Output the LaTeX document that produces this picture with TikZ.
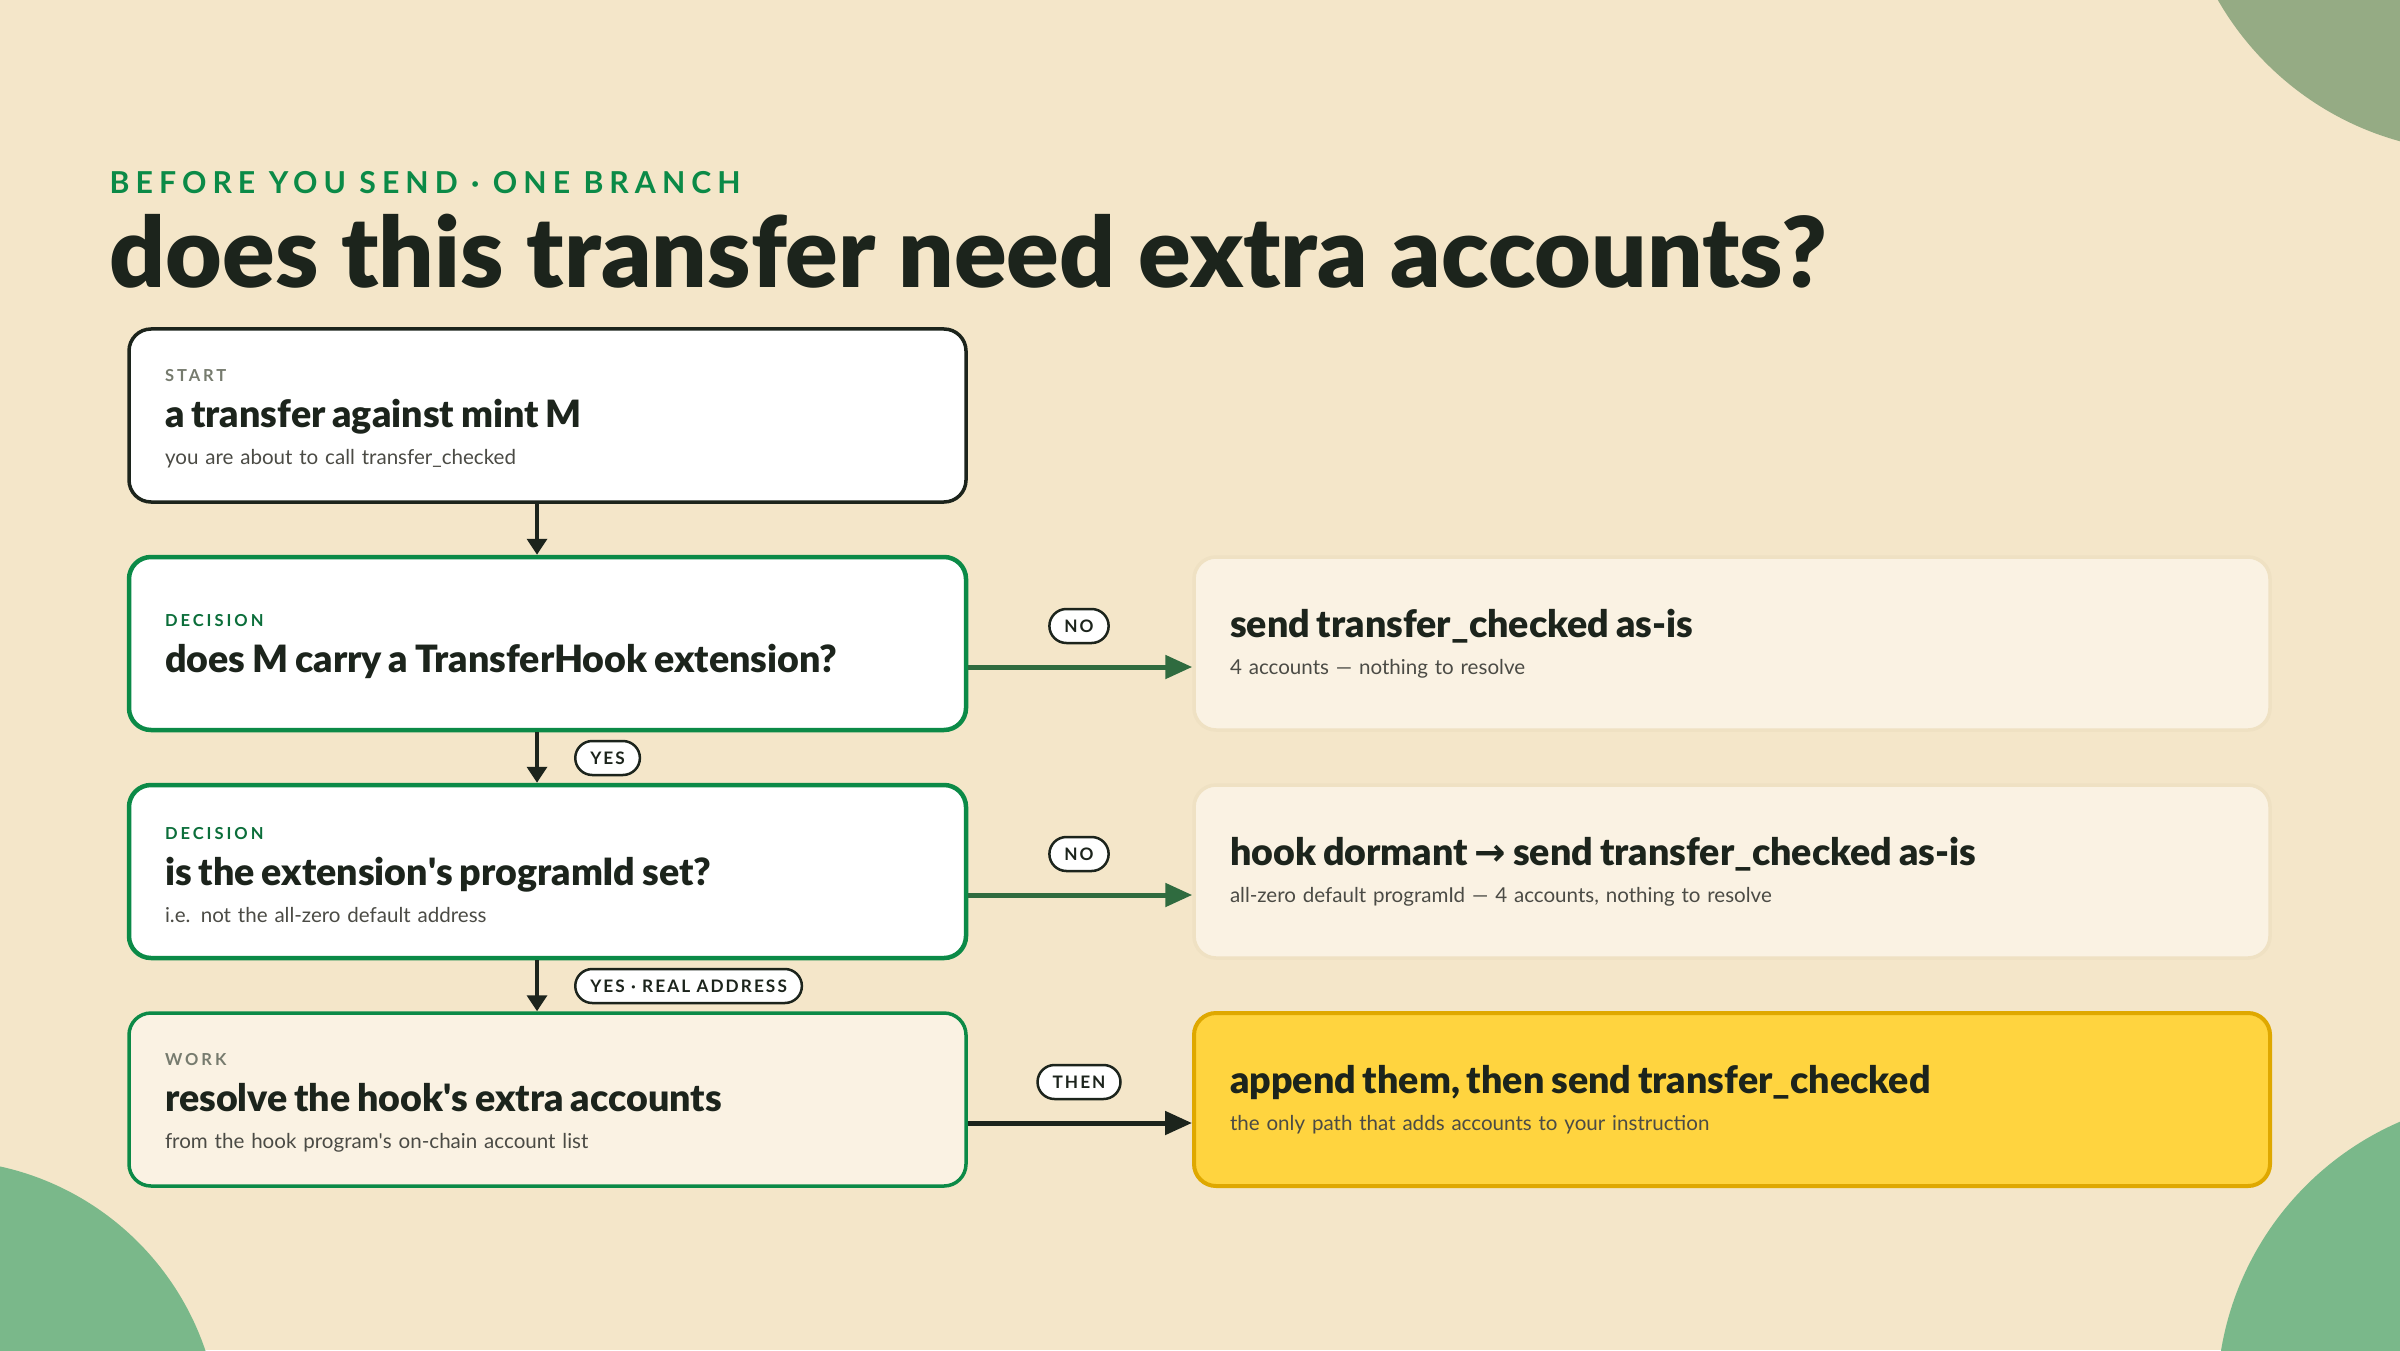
\documentclass[tikz,border=0pt]{standalone}
\usepackage{fontspec}
\setmainfont{Lato}
\newfontfamily\heavyfont{Lato Black}
\newfontfamily\trackfont{Lato}[LetterSpace=20]
\newfontfamily\tagfont{Lato}[LetterSpace=18]
\newfontfamily\pillfont{Lato}[LetterSpace=12]
\newfontfamily\arrowfont{DejaVu Sans}
\usetikzlibrary{arrows.meta,positioning}

\definecolor{paper}{HTML}{F4E6C9}
\definecolor{ink}{HTML}{1C241C}
\definecolor{leaf}{HTML}{0B8A47}
\definecolor{leafdark}{HTML}{0B6E3A}
\definecolor{moss}{HTML}{2F6B3F}
\definecolor{sage}{HTML}{95AB84}
\definecolor{mint}{HTML}{7AB88A}
\definecolor{cream}{HTML}{FAF2E3}
\definecolor{creamline}{HTML}{EFE1C3}
\definecolor{sun}{HTML}{FFD43F}
\definecolor{sunline}{HTML}{DFA800}
\definecolor{muted}{HTML}{4B4B45}
\definecolor{tagcol}{HTML}{767B6E}

\newcommand{\tagline}[2]{{\tagfont\bfseries\fontsize{4.7}{10.5}\selectfont\color{#1}\rule{0pt}{5.2pt}#2}\\[2.6pt]}
\newcommand{\headline}[1]{{\heavyfont\fontsize{10.7}{10.5}\selectfont\color{ink}#1}}
\newcommand{\subline}[1]{{\fontsize{5.85}{10.5}\selectfont\color{muted}#1}}

\tikzset{
    box/.style={rounded corners=2.2mm, minimum height=17.3mm, text width=76.5mm,
        inner xsep=3.6mm, inner ysep=0pt, align=left, font=\fontsize{5.85}{10.5}\selectfont},
    startbox/.style={box, draw=ink, line width=0.35mm, fill=white},
    decisionbox/.style={box, draw=leaf, line width=0.45mm, fill=white},
    workbox/.style={box, draw=leaf, line width=0.35mm, fill=cream},
    outcomebox/.style={box, text width=100.4mm, draw=creamline, line width=0.35mm, fill=cream},
    resultbox/.style={outcomebox, draw=sunline, line width=0.4mm, fill=sun},
    pill/.style={draw=ink, fill=white, line width=0.25mm, rounded corners=1.7mm,
        minimum height=3.4mm, inner xsep=1.5mm, inner ysep=0pt, text=ink,
        font=\pillfont\bfseries\fontsize{4.9}{5}\selectfont},
    flow/.style={-{Triangle[width=2mm,length=1.6mm]}, line width=0.35mm, draw=ink},
    branch/.style={-{Triangle[width=2.3mm,length=2.7mm]}, line width=0.5mm, draw=moss},
    final/.style={branch, draw=ink}
}

\begin{document}
\begin{tikzpicture}
    % Background
    \fill[paper] (0,0) rectangle (24,13.5);
    \useasboundingbox (0,0) rectangle (24,13.5);

    % Corner blobs
    \fill[sage] (24.80,15.00) circle (3.02);
    \fill[mint] (-0.60,-0.90) circle (2.80);
    \fill[mint] (25.20,-0.50) circle (3.03);

    % Heading
    \node[anchor=base west, inner sep=0pt, text=leaf] (kicker) at (1.09,11.56)
        {\trackfont\bfseries\fontsize{8.6}{10}\selectfont BEFORE YOU SEND · ONE BRANCH};
    \node[anchor=base west, inner sep=0pt, text=ink] (title) at (1.09,10.62)
        {\heavyfont\fontsize{27.8}{30}\selectfont does this transfer need extra accounts?};

    % Left column
    \node[startbox] (start) at (5.475,9.345)
        {\tagline{tagcol}{START}
         \headline{a transfer against mint M}\\
         \subline{you are about to call transfer\_checked}};
    \node[decisionbox] (hook) at (5.475,7.065)
        {\tagline{leafdark}{DECISION}
         \headline{does M carry a TransferHook extension?}};
    \node[decisionbox] (program) at (5.475,4.785)
        {\tagline{leafdark}{DECISION}
         \headline{is the extension\textquotesingle s programId set?}\\
         \subline{i.e. not the all-zero default address}};
    \node[workbox] (resolve) at (5.475,2.505)
        {\tagline{tagcol}{WORK}
         \headline{resolve the hook\textquotesingle s extra accounts}\\
         \subline{from the hook program\textquotesingle s on-chain account list}};

    % Right column
    \node[outcomebox] (asis) at (17.32,7.065)
        {\headline{send transfer\_checked as-is}\\
         \subline{4 accounts — nothing to resolve}};
    \node[outcomebox] (dormant) at (17.32,4.785)
        {\headline{hook dormant {\arrowfont\bfseries →} send transfer\_checked as-is}\\
         \subline{all-zero default programId — 4 accounts, nothing to resolve}};
    \node[resultbox] (append) at (17.32,2.505)
        {\headline{append them, then send transfer\_checked}\\
         \subline{the only path that adds accounts to your instruction}};

    % Arrows down
    \draw[flow] ([xshift=-1.05mm]start.south) -- ([xshift=-1.05mm]hook.north);
    \draw[flow] ([xshift=-1.05mm]hook.south) -- ([xshift=-1.05mm]program.north);
    \draw[flow] ([xshift=-1.05mm]program.south) -- ([xshift=-1.05mm]resolve.north);

    % Arrows across
    \draw[branch] ([yshift=-2.35mm]hook.east) -- ([yshift=-2.35mm]asis.west);
    \draw[branch] ([yshift=-2.35mm]program.east) -- ([yshift=-2.35mm]dormant.west);
    \draw[final] ([yshift=-2.35mm]resolve.east) -- ([yshift=-2.35mm]append.west);

    % Edge labels
    \node[pill] (no1) at (10.79,7.24) {NO};
    \node[pill] (no2) at (10.79,4.96) {NO};
    \node[pill] (then) at (10.79,2.68) {THEN};
    \node[pill, anchor=west] (yes) at (5.74,5.92) {YES};
    \node[pill, anchor=west] (yesreal) at (5.74,3.64) {YES · REAL ADDRESS};
\end{tikzpicture}
\end{document}
